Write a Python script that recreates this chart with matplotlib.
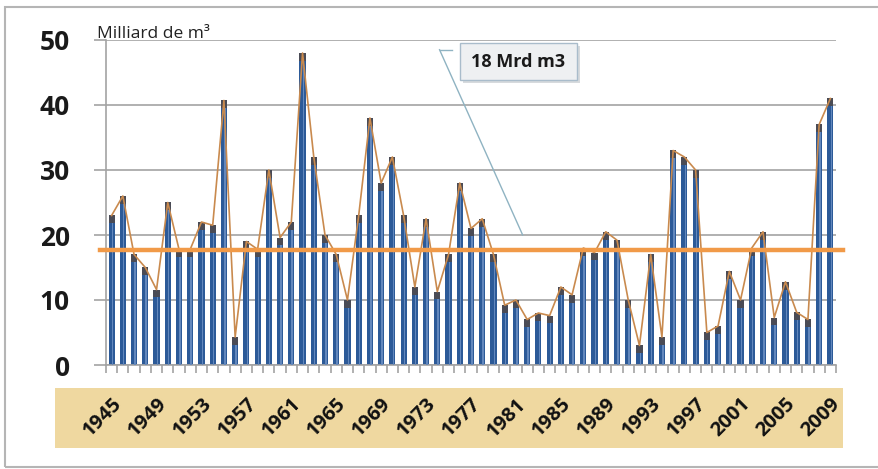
import matplotlib
matplotlib.use("Agg")
import matplotlib.pyplot as plt
from matplotlib.patches import Rectangle
import numpy as np

plt.rcParams['font.family'] = ['Open Sans', 'DejaVu Sans']

# annual volume, Milliard de m3, 1945-2009
years = list(range(1945, 2010))
volumes = [23, 26, 17, 15, 11.6, 25, 17.8, 17.8, 22, 21.5,
           40.7, 4.3, 19, 17.8, 30, 19.6, 22, 48, 32, 20,
           17, 10, 23, 38, 28, 32, 23, 12, 22.5, 11.3,
           17, 28, 21, 22.5, 17, 9.2, 10, 7, 8, 7.6,
           12, 10.8, 18, 17.3, 20.5, 19.2, 10, 3, 17, 4.3,
           33, 32, 30, 5, 6, 14.4, 10, 18, 20.5, 7.3,
           12.8, 8.1, 7, 37, 41]
mean_level = 17.7
label_years = years[::4]
yticks = [0, 10, 20, 30, 40, 50]

fig = plt.figure(figsize=(8.79, 4.69), dpi=100)
ax = fig.add_axes([106/879, 104/469, 730/879, 325/469])

x = np.arange(len(years))
vals = np.array(volumes)

ax.bar(x, vals, width=0.55, color='#2c5a98', zorder=2)
# lighter stripe and dark cap on each bar
ax.bar(x + 0.08, vals - 1.0, width=0.13, color='#6388bd', zorder=3)
cap = np.minimum(vals, 1.2)
ax.bar(x, cap, bottom=vals - cap, width=0.55, color='#4a4b55', zorder=3)
ax.plot(x, vals, color='#c98a4e', lw=1.2, zorder=4)
ax.axhline(mean_level, xmin=-0.008, xmax=1.01, color='#f19a48', lw=3.2,
           zorder=5, clip_on=False)

ax.set_xlim(-0.5, len(years) - 0.5)
ax.set_ylim(0, 50)
ax.set_yticks(yticks)
ax.set_yticklabels([str(v) for v in yticks], fontsize=19, fontweight='bold',
                   color='#1a1a1a')
ax.yaxis.grid(True, color='#a3a3a3', lw=1.2, zorder=0)
ax.tick_params(axis='y', length=9, width=1.2, color='#a3a3a3', pad=17)

ax.set_xticks([years.index(y) for y in label_years])
ax.set_xticklabels([str(y) for y in label_years], rotation=45, ha='right',
                   va='top', rotation_mode='anchor', fontsize=14.5,
                   fontweight='bold', color='#111111')
ax.set_xticks(np.arange(len(years) + 1) - 0.5, minor=True)
ax.tick_params(axis='x', which='major', length=0, pad=21)
ax.tick_params(axis='x', which='minor', length=6, width=1.2, color='#a3a3a3')

for s in ['top', 'right']:
    ax.spines[s].set_visible(False)
for s in ['left', 'bottom']:
    ax.spines[s].set_color('#a3a3a3')
    ax.spines[s].set_linewidth(1.2)
ax.set_axisbelow(True)

# tan band behind the year labels
fig.add_artist(Rectangle((55/879, 21/469), 788/879, 60/469,
                         transform=fig.transFigure, facecolor='#efd8a0',
                         edgecolor='none', zorder=0))
# outer frame
fig.add_artist(Rectangle((5/879, 2/469), 880/879, 460/469,
                         transform=fig.transFigure, facecolor='none',
                         edgecolor='#b5b5b5', lw=1.5, zorder=0))

fig.text(97/879, 431/469, 'Milliard de m³', fontsize=12.5, color='#222222',
         ha='left', va='baseline')

# callout pointing at the mean line
ax.plot([29.2, 30.3], [48.5, 48.5], color='#8fb3c2', lw=1, clip_on=False, zorder=6)
ax.plot([29.2, 36.6], [48.5, 20], color='#8fb3c2', lw=1, clip_on=False, zorder=6)
fig.add_artist(Rectangle((463/879, 386/469), 117/879, 37/469,
                         transform=fig.transFigure, facecolor='#d7dadd',
                         edgecolor='none', zorder=6))
fig.add_artist(Rectangle((460/879, 389/469), 117/879, 37/469,
                         transform=fig.transFigure, facecolor='#eef0f2',
                         edgecolor='#a9bccb', lw=1, zorder=7))
fig.text(518/879, 407/469, '18 Mrd m3', fontsize=13, fontweight='bold',
         color='#1a1a1a', ha='center', va='center', zorder=8)

fig.savefig('out.png', dpi=100)
